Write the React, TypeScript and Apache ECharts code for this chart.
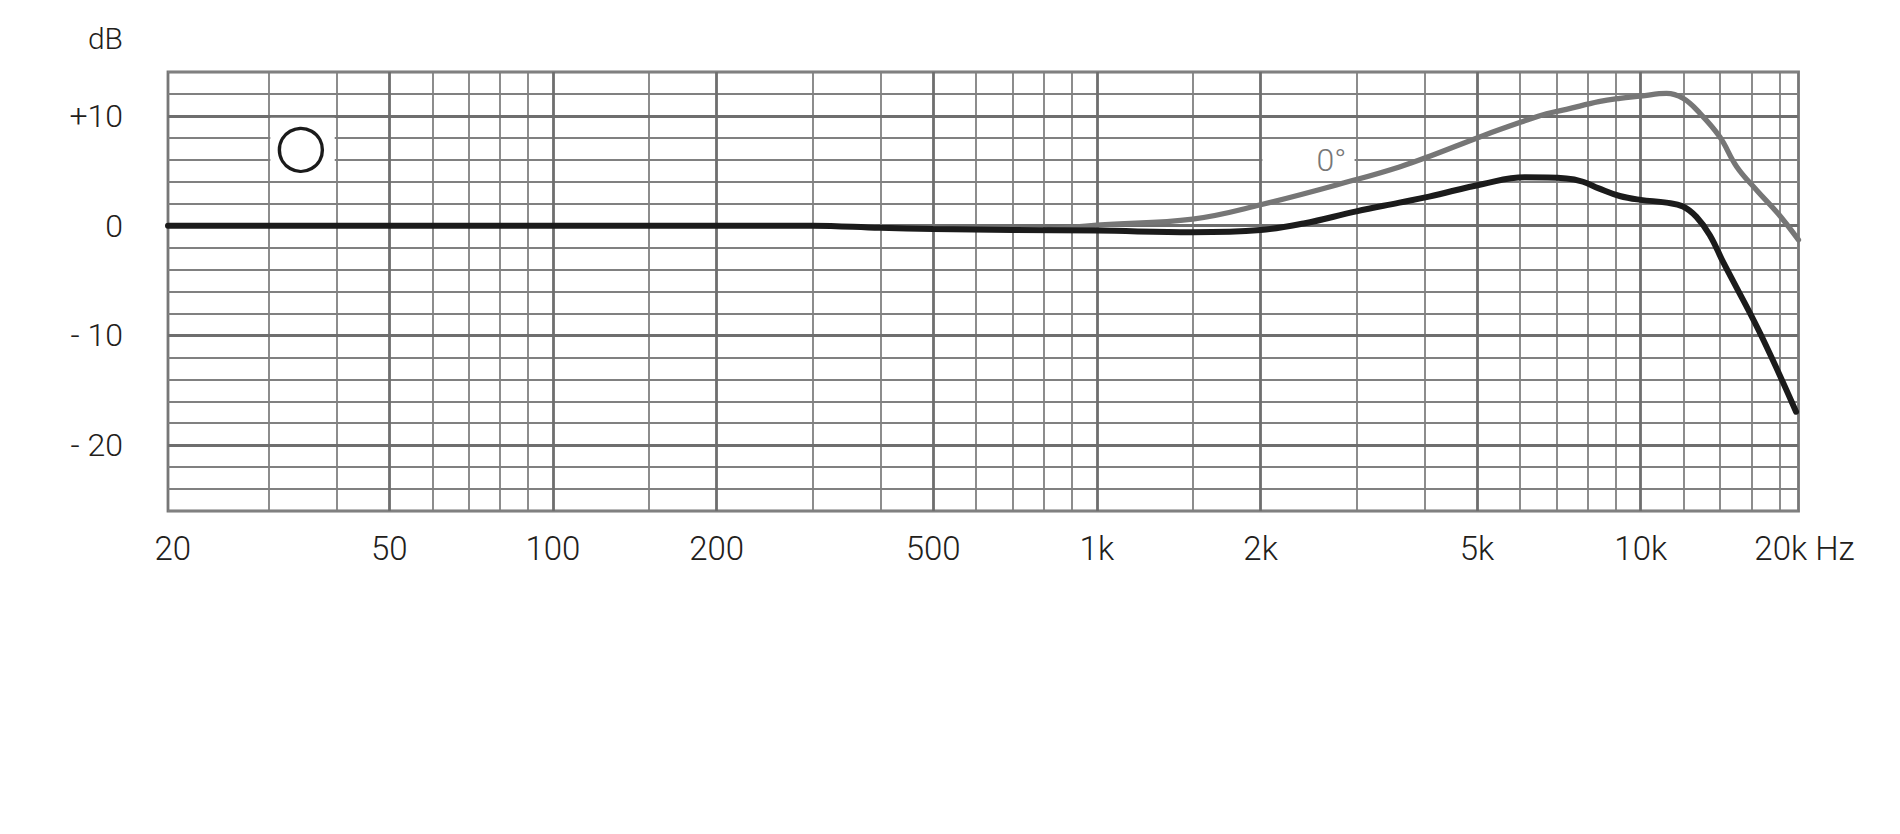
import React, { useEffect, useRef } from 'react';
import * as echarts from 'echarts';

// Axis extents (Hz, dB)
const X_MIN = 19.6;
const X_MAX = 19500;
const Y_MIN = -26;
const Y_MAX = 14;
const Y_STEP = 2;

// Grid lines
const minorFreqLines = [30, 40, 60, 70, 80, 90, 150, 300, 400, 600, 700, 800, 900, 1500, 3000, 4000, 6000, 7000, 8000, 9000, 12000, 14000, 16000, 18000];
const majorFreqLines = [50, 100, 200, 500, 1000, 2000, 5000, 10000];
const majorDbLines = [-20, -10, 0, 10];

// Tick labels
const xTickValues = [20, 50, 100, 200, 500, 1000, 2000, 5000, 10000, 20000];
const xTickLabels = ['20', '50', '100', '200', '500', '1k', '2k', '5k', '10k', '20k Hz'];
const yTickValues = [10, 0, -10, -20];
const yTickLabels = ['+10', '0', '- 10', '- 20'];

// Black curve
const freqBlack = [19.6, 50, 100, 200, 300, 400, 500, 700, 1000, 1500, 2000, 2400, 3000, 3600, 4080, 5130, 6120, 7300, 7830, 8370, 9150, 10000, 11150, 11960, 12660, 13390, 14200, 16500, 19300];
const dbBlack = [0, 0, 0, 0, 0, -0.2, -0.3, -0.4, -0.45, -0.6, -0.4, 0.2, 1.3, 2.1, 2.65, 3.8, 4.4, 4.3, 4.0, 3.4, 2.7, 2.35, 2.1, 1.75, 0.8, -0.85, -3.4, -9.6, -16.95];

// Grey curve (0°)
const freqGrey = [800, 1000, 1500, 2000, 3000, 3600, 4080, 5130, 6120, 6710, 7300, 8370, 9150, 10000, 11150, 11960, 12840, 13970, 15000, 16320, 17880, 19500];
const dbGrey = [-0.4, 0.05, 0.6, 1.9, 4.2, 5.35, 6.3, 8.2, 9.55, 10.2, 10.6, 11.3, 11.6, 11.8, 12.05, 11.6, 10.25, 8.1, 5.4, 3.25, 1.1, -1.3];

// Annotations
const circleMarker = { freq: 34.4, db: 6.9, boxFrom: [30, 10], boxTo: [40, 4] };
const greyLabel = { text: '0°', freq: 2700, db: 6, boxFrom: [2000, 8], boxTo: [3000, 4] };

const TEXT_COLOR = '#22201a';
const FONT = 'Roboto, "Noto Sans", sans-serif';
const FONT_WEIGHT = 300;
const MINOR = { color: '#808080', width: 1.8, type: 'solid' as const };
const MAJOR = { color: '#6e6e6e', width: 2.8, type: 'solid' as const };

export default function App() {
  const ref = useRef<HTMLDivElement>(null);

  useEffect(() => {
    if (!ref.current) return;
    const chart = echarts.init(ref.current, undefined, { renderer: 'svg' });

    const markData: any[] = [
      ...minorFreqLines.map((v) => ({ xAxis: v, lineStyle: MINOR })),
      ...majorFreqLines.map((v) => ({ xAxis: v, lineStyle: MAJOR })),
      ...majorDbLines.map((v) => ({ yAxis: v, lineStyle: MAJOR })),
    ];

    chart.setOption({
      animation: false,
      backgroundColor: '#ffffff',
      grid: {
        left: 168,
        top: 72,
        width: 1630.5,
        height: 439,
        show: true,
        borderColor: '#777777',
        borderWidth: 2.8,
        backgroundColor: 'transparent',
      },
      xAxis: {
        type: 'log',
        logBase: 10,
        min: X_MIN,
        max: X_MAX,
        axisLine: { show: false },
        axisTick: { show: false },
        axisLabel: { show: false },
        splitLine: { show: false },
        minorSplitLine: { show: false },
      },
      yAxis: {
        type: 'value',
        min: Y_MIN,
        max: Y_MAX,
        interval: Y_STEP,
        axisLine: { show: false },
        axisTick: { show: false },
        splitLine: { show: true, lineStyle: { color: MINOR.color, width: MINOR.width } },
        axisLabel: {
          margin: 45,
          fontSize: 32,
          fontFamily: FONT,
          fontWeight: FONT_WEIGHT,
          color: TEXT_COLOR,
          formatter: (v: number) => {
            const i = yTickValues.indexOf(v);
            return i >= 0 ? yTickLabels[i] : '';
          },
        },
      },
      series: [
        {
          name: '0°',
          type: 'line',
          z: 3,
          data: freqGrey.map((f, i) => [f, dbGrey[i]]),
          showSymbol: false,
          smooth: 0.4,
          lineStyle: { color: '#767676', width: 5.3, cap: 'round' },
          silent: true,
        },
        {
          name: 'response',
          type: 'line',
          z: 4,
          data: freqBlack.map((f, i) => [f, dbBlack[i]]),
          showSymbol: false,
          smooth: 0.4,
          lineStyle: { color: '#1b1b1b', width: 6, cap: 'round' },
          silent: true,
          markLine: {
            silent: true,
            z: 1,
            symbol: ['none', 'none'],
            label: { show: false },
            emphasis: { disabled: true },
            data: markData,
          },
        },
      ],
    });

    const px = (p: number[]) => chart.convertToPixel({ xAxisIndex: 0, yAxisIndex: 0 }, p) as number[];

    const boxRect = (from: number[], to: number[]) => {
      const a = px(from);
      const b = px(to);
      return {
        type: 'rect',
        z: 2,
        silent: true,
        shape: { x: a[0] + 1.8, y: a[1] + 1.8, width: b[0] - a[0] - 3.6, height: b[1] - a[1] - 3.6 },
        style: { fill: '#ffffff' },
      };
    };

    const c = px([circleMarker.freq, circleMarker.db]);
    const g = px([greyLabel.freq, greyLabel.db]);
    const xLabelTexts = xTickValues.map((v, i) => {
      const p = px([v, Y_MIN]);
      return {
        type: 'text',
        z: 5,
        silent: true,
        x: p[0],
        y: p[1] + 37,
        style: {
          text: xTickLabels[i],
          fontSize: 33,
          fontFamily: FONT,
          fontWeight: FONT_WEIGHT,
          fill: TEXT_COLOR,
          align: 'center',
          verticalAlign: 'middle',
        },
      };
    });
    const top = px([X_MIN, Y_MAX]);

    chart.setOption({
      graphic: [
        boxRect(circleMarker.boxFrom, circleMarker.boxTo),
        boxRect(greyLabel.boxFrom, greyLabel.boxTo),
        {
          type: 'circle',
          z: 5,
          silent: true,
          shape: { cx: c[0], cy: c[1], r: 21.5 },
          style: { fill: 'transparent', stroke: '#1b1b1b', lineWidth: 3.4 },
        },
        {
          type: 'text',
          z: 5,
          silent: true,
          x: g[0],
          y: g[1],
          style: {
            text: greyLabel.text,
            fontSize: 32,
            fontFamily: FONT,
            fontWeight: FONT_WEIGHT,
            fill: '#777777',
            align: 'center',
            verticalAlign: 'middle',
          },
        },
        {
          type: 'text',
          z: 5,
          silent: true,
          x: top[0] - 45,
          y: top[1] - 34,
          style: {
            text: 'dB',
            fontSize: 30,
            fontFamily: FONT,
            fontWeight: FONT_WEIGHT,
            fill: TEXT_COLOR,
            align: 'right',
            verticalAlign: 'middle',
          },
        },
        ...xLabelTexts,
      ],
    });

    return () => chart.dispose();
  }, []);

  return (
    <div
      ref={ref}
      style={{ position: 'absolute', left: 0, top: 0, width: 1900, height: 834, background: '#fff' }}
    />
  );
}
